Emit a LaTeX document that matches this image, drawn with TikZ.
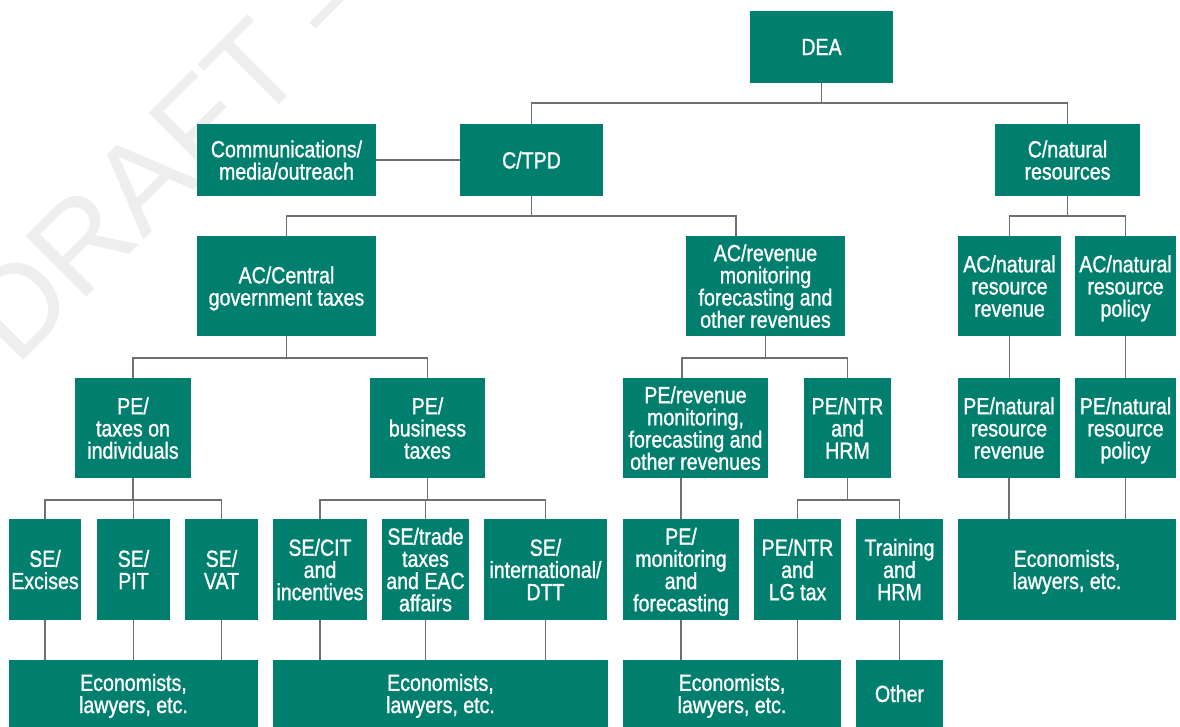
\documentclass[tikz,border=0pt]{standalone}
\usepackage{fontspec}
\setmainfont{Liberation Sans}
\newfontfamily\boxfont{Liberation Sans}[FakeStretch=0.84,FakeBold=1.2]
\usetikzlibrary{calc}
\definecolor{orgteal}{RGB}{0,127,110}
\definecolor{linegray}{RGB}{110,111,114}
\definecolor{wmgray}{RGB}{238,238,238}
\tikzset{
  orgbox/.style={fill=orgteal, text=white, inner sep=0pt, outer sep=0pt, align=center,
    text depth=0pt, font=\boxfont\fontsize{23.3pt}{22.2pt}\selectfont},
  conn/.style={draw=linegray, line width=1.5pt},
  wmark/.style={text=wmgray, inner sep=0pt, font=\fontsize{125pt}{125pt}\selectfont},
}
\newcommand\obox[6]{\node[orgbox, minimum width={#4-#2}, minimum height={#5-#3}] (#1) at ({(#2+#4)/2},{(#3+#5)/2}) {#6};}
\begin{document}
\begin{tikzpicture}[x=1pt,y=-1pt]
\useasboundingbox (0,0) rectangle (1180,727);
\fill[white] (0,0) rectangle (1180,727);
\begin{scope}
\clip (0,0) rectangle (1180,727);
\node[wmark, rotate=45, anchor=base west] (wm) at (16,368) {DRAFT –};
\end{scope}
% row 1
\obox{dea}{750}{11}{893}{83}{DEA}
% row 2
\obox{comm}{197}{124}{376}{196}{Communications/\\media/outreach}
\obox{ctpd}{460}{124}{603}{196}{C/TPD}
\obox{cnat}{995}{124}{1140}{196}{C/natural\\resources}
% row 3
\obox{acc}{197}{236}{376}{336}{AC/Central\\government taxes}
\obox{acrev}{686}{236}{845}{336}{AC/revenue\\monitoring\\forecasting and\\other revenues}
\obox{acnrr}{958}{236}{1061}{336}{AC/natural\\resource\\revenue}
\obox{acnrp}{1075}{236}{1176}{336}{AC/natural\\resource\\policy}
% row 4
\obox{pei}{75}{378}{191}{478}{PE/\\taxes on\\individuals}
\obox{peb}{370}{378}{485}{478}{PE/\\business\\taxes}
\obox{perev}{623}{378}{768}{478}{PE/revenue\\monitoring,\\forecasting and\\other revenues}
\obox{pentr}{804}{378}{891}{478}{PE/NTR\\and\\HRM}
\obox{penrr}{958}{378}{1060}{478}{PE/natural\\resource\\revenue}
\obox{penrp}{1075}{378}{1176}{478}{PE/natural\\resource\\policy}
% row 5
\obox{seexc}{9}{519}{81}{620}{SE/\\Excises}
\obox{sepit}{97}{519}{170}{620}{SE/\\PIT}
\obox{sevat}{185}{519}{258}{620}{SE/\\VAT}
\obox{secit}{273}{519}{367}{620}{SE/CIT\\and\\incentives}
\obox{setrade}{382}{519}{469}{620}{SE/trade\\taxes\\and EAC\\affairs}
\obox{seintl}{484}{519}{607}{620}{SE/\\international/\\DTT}
\obox{pemon}{623}{519}{739}{620}{PE/\\monitoring\\and\\forecasting}
\obox{pentrlg}{754}{519}{841}{620}{PE/NTR\\and\\LG tax}
\obox{train}{856}{519}{943}{620}{Training\\and\\HRM}
\obox{econn}{958}{519}{1176}{620}{Economists,\\lawyers, etc.}
% row 6
\obox{econa}{9}{660}{258}{727}{Economists,\\lawyers, etc.}
\obox{econb}{273}{660}{608}{727}{Economists,\\lawyers, etc.}
\obox{econc}{623}{660}{841}{727}{Economists,\\lawyers, etc.}
\obox{other}{856}{660}{943}{727}{Other}
% connectors
\draw[conn] (dea.south) -- ++(0,20) -| (ctpd.north);
\draw[conn] (dea.south) -- ++(0,20) -| (cnat.north);
\draw[conn] (comm.east) -- (ctpd.west);
\draw[conn] (ctpd.south) -- ++(0,20) -| (acc.north);
\draw[conn] (ctpd.south) -- ++(0,20) -| ($(acrev.north west)+(50,0)$);
\draw[conn] (cnat.south) -- ++(0,20) -| (acnrr.north);
\draw[conn] (cnat.south) -- ++(0,20) -| (acnrp.north);
\draw[conn] (acc.south) -- ++(0,22) -| (pei.north);
\draw[conn] (acc.south) -- ++(0,22) -| (peb.north);
\draw[conn] (acrev.south) -- ++(0,22) -| ($(perev.north west)+(59,0)$);
\draw[conn] (acrev.south) -- ++(0,22) -| (pentr.north);
\draw[conn] (acnrr.south) -- (acnrr.south |- penrr.north);
\draw[conn] (acnrp.south) -- (acnrp.south |- penrp.north);
\draw[conn] (pei.south) -- ++(0,22) -| (seexc.north);
\draw[conn] (pei.south) -- ++(0,22) -| (sepit.north);
\draw[conn] (pei.south) -- ++(0,22) -| (sevat.north);
\draw[conn] (peb.south) -- ++(0,22) -| (secit.north);
\draw[conn] (peb.south) -- ++(0,22) -| (setrade.north);
\draw[conn] (peb.south) -- ++(0,22) -| (seintl.north);
\draw[conn] (pemon.north |- perev.south) -- (pemon.north);
\draw[conn] (pentr.south) -- ++(0,22) -| (pentrlg.north);
\draw[conn] (pentr.south) -- ++(0,22) -| (train.north);
\draw[conn] (penrr.south) -- (penrr.south |- econn.north);
\draw[conn] (penrp.south) -- (penrp.south |- econn.north);
\draw[conn] (seexc.south) -- (seexc.south |- econa.north);
\draw[conn] (sepit.south) -- (sepit.south |- econa.north);
\draw[conn] (sevat.south) -- (sevat.south |- econa.north);
\draw[conn] (secit.south) -- (secit.south |- econb.north);
\draw[conn] (setrade.south) -- (setrade.south |- econb.north);
\draw[conn] (seintl.south) -- (seintl.south |- econb.north);
\draw[conn] (pemon.south) -- (pemon.south |- econc.north);
\draw[conn] (pentrlg.south) -- (pentrlg.south |- econc.north);
\draw[conn] (train.south) -- (other.north);
\end{tikzpicture}
\end{document}
